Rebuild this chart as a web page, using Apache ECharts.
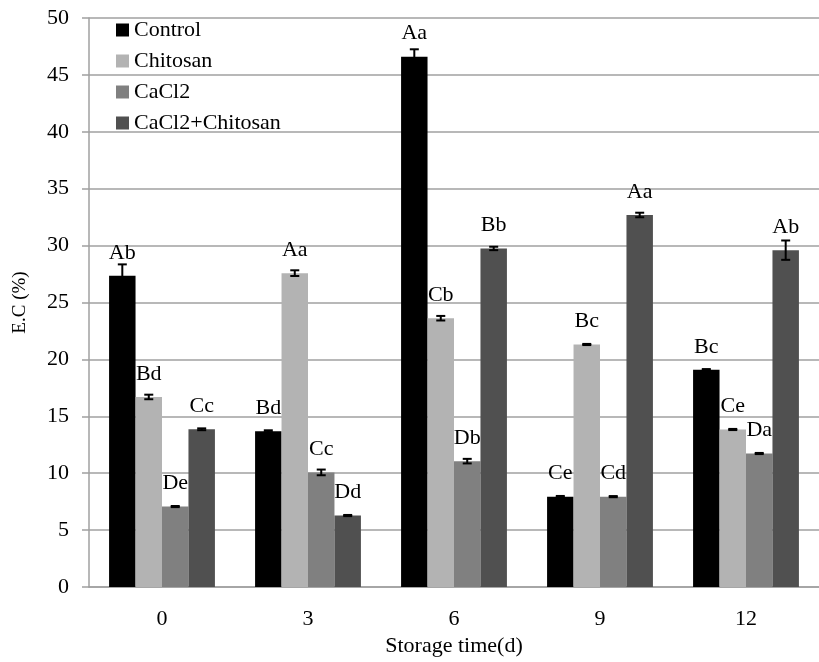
<!DOCTYPE html>
<html>
<head>
<meta charset="utf-8">
<script src="https://cdn.jsdelivr.net/npm/echarts@6/dist/echarts.min.js"></script>
<style>html,body{margin:0;padding:0;background:#fff;}#c{width:819px;height:662px;}</style>
</head>
<body>
<div id="c"></div>
<script>
const categories = ['0', '3', '6', '9', '12'];
const seriesNames = ['Control', 'Chitosan', 'CaCl2', 'CaCl2+Chitosan'];
const control = [27.35, 13.69, 46.6, 7.94, 19.09];
const chitosan = [16.7, 27.58, 23.62, 21.31, 13.84];
const cacl2 = [7.07, 10.07, 11.06, 7.94, 11.73];
const combo = [13.86, 6.28, 29.75, 32.69, 29.6];
const controlErr = [1.0, 0.08, 0.65, 0.06, 0.06];
const chitosanErr = [0.2, 0.25, 0.2, 0.05, 0.05];
const cacl2Err = [0.05, 0.25, 0.2, 0.05, 0.05];
const comboErr = [0.08, 0.05, 0.15, 0.2, 0.85];
const controlLetters = ['Ab', 'Bd', 'Aa', 'Ce', 'Bc'];
const chitosanLetters = ['Bd', 'Aa', 'Cb', 'Bc', 'Ce'];
const cacl2Letters = ['De', 'Cc', 'Db', 'Cd', 'Da'];
const comboLetters = ['Cc', 'Dd', 'Bb', 'Aa', 'Ab'];
const yTicks = [0, 50, 5];

const values = [control, chitosan, cacl2, combo];
const errs = [controlErr, chitosanErr, cacl2Err, comboErr];
const letters = [controlLetters, chitosanLetters, cacl2Letters, comboLetters];
const colors = ['#000000', '#b3b3b3', '#808080', '#505050'];
const FONT = "'Liberation Serif', 'Times New Roman', serif";
const GAP = 0.275;

const chart = echarts.init(document.getElementById('c'), null, {renderer: 'canvas'});

const series = [];
values.forEach((vals, si) => {
  series.push({
    name: seriesNames[si],
    type: 'bar',
    data: vals.map((v, i) => ({value: v, label: {formatter: letters[si][i]}})),
    barGap: '0%',
    barCategoryGap: (GAP * 100) + '%',
    itemStyle: {color: colors[si]},
    label: {show: true, position: 'top', distance: 12, color: '#000', fontFamily: FONT, fontSize: 22},
    z: 2
  });
});
values.forEach((vals, si) => {
  series.push({
    type: 'custom',
    name: 'err' + si,
    data: vals.map((v, i) => [i, v, errs[si][i]]),
    z: 5,
    silent: true,
    renderItem: function (params, api) {
      const c = api.value(0), v = api.value(1), e = api.value(2);
      const catW = api.size([1, 0])[0];
      const bw = catW * (1 - GAP) / 4;
      const off = (si - 1.5) * bw;
      const hi = api.coord([c, v + e]);
      const lo = api.coord([c, v - e]);
      const x = hi[0] + off;
      const cap = 4.5;
      const st = {stroke: '#000', lineWidth: 2};
      return {type: 'group', children: [
        {type: 'line', shape: {x1: x, y1: hi[1], x2: x, y2: lo[1]}, style: st},
        {type: 'line', shape: {x1: x - cap, y1: hi[1], x2: x + cap, y2: hi[1]}, style: st},
        {type: 'line', shape: {x1: x - cap, y1: lo[1], x2: x + cap, y2: lo[1]}, style: st}
      ]};
    }
  });
});

chart.setOption({
  animation: false,
  backgroundColor: '#ffffff',
  textStyle: {fontFamily: FONT},
  grid: {left: 89, top: 18, width: 737, bottom: 73, containLabel: false},
  legend: {
    orient: 'vertical', left: 116, top: 19, padding: 0,
    data: seriesNames, icon: 'rect', itemWidth: 13, itemHeight: 13, itemGap: 9,
    textStyle: {fontFamily: FONT, fontSize: 22, color: '#000', lineHeight: 22}
  },
  xAxis: {
    type: 'category', data: categories,
    name: 'Storage time(d)', nameLocation: 'middle', nameGap: 48,
    nameTextStyle: {fontFamily: FONT, fontSize: 22, color: '#000'},
    axisLine: {show: true, lineStyle: {color: '#a0a0a0', width: 1.5}},
    axisTick: {show: false},
    axisLabel: {margin: 21, fontFamily: FONT, fontSize: 22, color: '#000'}
  },
  yAxis: {
    type: 'value', min: yTicks[0], max: yTicks[1], interval: yTicks[2],
    name: 'E.C (%)', nameLocation: 'middle', nameGap: 59, nameRotate: 90,
    nameTextStyle: {fontFamily: FONT, fontSize: 19, color: '#000'},
    axisLine: {show: true, lineStyle: {color: '#a0a0a0', width: 1.5}},
    axisTick: {show: true, length: 7, lineStyle: {color: '#a0a0a0', width: 1.5}},
    splitLine: {show: true, lineStyle: {color: '#a0a0a0', width: 1.5}},
    axisLabel: {margin: 20, fontFamily: FONT, fontSize: 22, color: '#000'}
  },
  series: series
});
</script>
</body>
</html>
